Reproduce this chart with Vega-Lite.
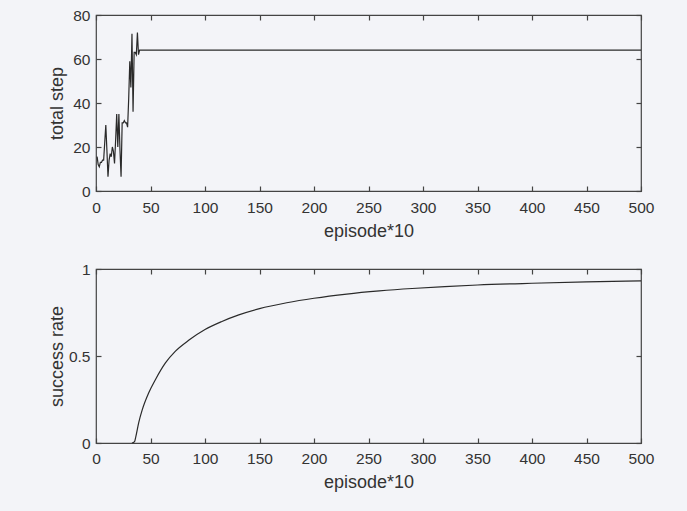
{
  "$schema": "https://vega.github.io/schema/vega-lite/v6.json",
  "background": "#f3f4f8",
  "padding": {"left": 47, "top": 7, "right": 44, "bottom": 20},
  "bounds": "flush",
  "spacing": 78,
  "datasets": {
    "steps": [
      {"episode": 1, "step": 15.6}, {"episode": 2, "step": 12}, {"episode": 3, "step": 11},
      {"episode": 4, "step": 13}, {"episode": 5, "step": 13}, {"episode": 6, "step": 14},
      {"episode": 7, "step": 14}, {"episode": 8, "step": 22}, {"episode": 9, "step": 30},
      {"episode": 10, "step": 18.6}, {"episode": 11, "step": 6.5}, {"episode": 12, "step": 14},
      {"episode": 13, "step": 17}, {"episode": 14, "step": 15.6}, {"episode": 15, "step": 20},
      {"episode": 16, "step": 18}, {"episode": 17, "step": 12.5}, {"episode": 18, "step": 23},
      {"episode": 19, "step": 35}, {"episode": 20, "step": 20}, {"episode": 21, "step": 35},
      {"episode": 22, "step": 18.6}, {"episode": 23, "step": 6.5}, {"episode": 24, "step": 31},
      {"episode": 25, "step": 31}, {"episode": 26, "step": 32}, {"episode": 27, "step": 31},
      {"episode": 28, "step": 31}, {"episode": 29, "step": 29}, {"episode": 30, "step": 42},
      {"episode": 31, "step": 59}, {"episode": 32, "step": 47}, {"episode": 33, "step": 71.5},
      {"episode": 34, "step": 36}, {"episode": 35, "step": 63}, {"episode": 36, "step": 63},
      {"episode": 37, "step": 62}, {"episode": 38, "step": 72}, {"episode": 39, "step": 62},
      {"episode": 40, "step": 64}, {"episode": 41, "step": 64}, {"episode": 500, "step": 64}
    ],
    "rate": [
      {"episode": 33, "rate": 0}, {"episode": 35.5, "rate": 0.01}, {"episode": 36.5, "rate": 0.035},
      {"episode": 39.3, "rate": 0.12}, {"episode": 42.4, "rate": 0.19}, {"episode": 48.5, "rate": 0.29},
      {"episode": 54.6, "rate": 0.365}, {"episode": 63.7, "rate": 0.46}, {"episode": 72.9, "rate": 0.528},
      {"episode": 85, "rate": 0.59}, {"episode": 100, "rate": 0.652}, {"episode": 115, "rate": 0.697},
      {"episode": 131, "rate": 0.736}, {"episode": 150, "rate": 0.772}, {"episode": 175, "rate": 0.806},
      {"episode": 200, "rate": 0.832}, {"episode": 230, "rate": 0.856}, {"episode": 260, "rate": 0.874},
      {"episode": 290, "rate": 0.888}, {"episode": 320, "rate": 0.899}, {"episode": 350, "rate": 0.908},
      {"episode": 400, "rate": 0.918}, {"episode": 450, "rate": 0.926}, {"episode": 500, "rate": 0.932}
    ]
  },
  "config": {
    "view": {"stroke": "#444", "strokeWidth": 1.2},
    "axis": {
      "labelFont": "Liberation Sans", "titleFont": "Liberation Sans",
      "labelFontSize": 15.5, "titleFontSize": 18, "titleFontWeight": "normal",
      "labelColor": "#333", "titleColor": "#333", "labelFlush": false, "labelOverlap": false,
      "domain": false, "grid": false,
      "tickColor": "#444", "tickSize": -5, "tickWidth": 1.2
    },
    "line": {"color": "#2a2a2a", "strokeWidth": 1.2}
  },
  "vconcat": [
    {
      "width": 545, "height": 176,
      "data": {"name": "steps"},
      "layer": [
        {
          "mark": "line",
          "encoding": {
            "x": {"field": "episode", "type": "quantitative", "scale": {"domain": [0, 500], "nice": false},
                  "axis": {"title": "episode*10", "values": [0, 50, 100, 150, 200, 250, 300, 350, 400, 450, 500], "labelPadding": 14, "titlePadding": 7}},
            "y": {"field": "step", "type": "quantitative", "scale": {"domain": [0, 80], "nice": false},
                  "axis": {"title": "total step", "values": [0, 20, 40, 60, 80], "labelPadding": 11, "titleX": -30, "titleY": 88}}
          }
        },
        {
          "mark": {"type": "line", "opacity": 0},
          "encoding": {
            "x": {"field": "episode", "type": "quantitative", "axis": {"orient": "top", "title": null, "labels": false, "values": [0, 50, 100, 150, 200, 250, 300, 350, 400, 450, 500]}},
            "y": {"field": "step", "type": "quantitative", "axis": {"orient": "right", "title": null, "labels": false, "values": [0, 20, 40, 60, 80]}}
          }
        }
      ],
      "resolve": {"axis": {"x": "independent", "y": "independent"}}
    },
    {
      "width": 545, "height": 174,
      "data": {"name": "rate"},
      "layer": [
        {
          "mark": {"type": "line", "interpolate": "monotone"},
          "encoding": {
            "x": {"field": "episode", "type": "quantitative", "scale": {"domain": [0, 500], "nice": false},
                  "axis": {"title": "episode*10", "values": [0, 50, 100, 150, 200, 250, 300, 350, 400, 450, 500], "labelPadding": 13, "titlePadding": 7}},
            "y": {"field": "rate", "type": "quantitative", "scale": {"domain": [0, 1], "nice": false},
                  "axis": {"title": "success rate", "values": [0, 0.5, 1], "format": "~g", "labelPadding": 11, "titleX": -30, "titleY": 87}}
          }
        },
        {
          "mark": {"type": "line", "opacity": 0},
          "encoding": {
            "x": {"field": "episode", "type": "quantitative", "axis": {"orient": "top", "title": null, "labels": false, "values": [0, 50, 100, 150, 200, 250, 300, 350, 400, 450, 500]}},
            "y": {"field": "rate", "type": "quantitative", "axis": {"orient": "right", "title": null, "labels": false, "values": [0, 0.5, 1]}}
          }
        }
      ],
      "resolve": {"axis": {"x": "independent", "y": "independent"}}
    }
  ]
}
